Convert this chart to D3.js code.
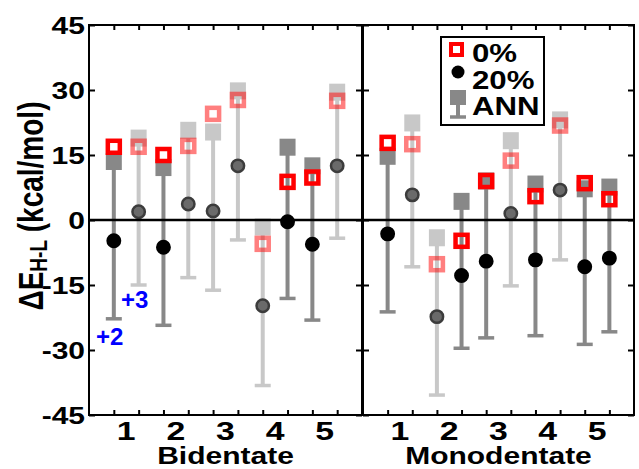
<!DOCTYPE html>
<html>
<head>
<meta charset="utf-8">
<script src="https://cdn.jsdelivr.net/npm/d3@7"></script>
<style>
body { margin: 0; background: #fff; }
text { font-family: "Liberation Sans", Arial, sans-serif; font-weight: bold; }
</style>
</head>
<body>
<svg width="639" height="469"></svg>
<script>
// categories and tick labels
var groups = ["Bidentate", "Monodentate"];
var catLabels = [1, 2, 3, 4, 5];
var yTicks = [-45, -30, -15, 0, 15, 30, 45];

// bidentate: 10 complexes, charge +2 (dark) or +3 (light)
var bidCharge = [2, 3, 2, 3, 3, 3, 3, 2, 2, 3];
var bid0 = [16.9, 16.9, 15.0, 17.1, 24.5, 27.7, -5.5, 8.8, 9.8, 27.5];
var bid20 = [-4.8, 1.9, -6.3, 3.7, 2.1, 12.5, -19.8, -0.4, -5.6, 12.5];
var bidANN = [13.5, 18.9, 12.1, 20.7, 20.3, 29.8, -1.6, 16.8, 12.5, 29.5];
var bidLow = [-22.8, -15.0, -24.3, -13.3, -16.2, -4.6, -38.2, -18.1, -23.1, -4.2];

// monodentate
var monoCharge = [2, 3, 3, 2, 2, 3, 2, 3, 2, 2];
var mono0 = [17.8, 17.5, -10.2, -4.8, 9.0, 13.7, 5.5, 21.8, 8.5, 4.8];
var mono20 = [-3.2, 5.8, -22.3, -12.8, -9.5, 1.5, -9.2, 6.9, -10.8, -8.8];
var monoANN = [14.7, 22.4, -4.1, 4.3, 9.0, 18.3, 8.3, 23.1, 7.2, 7.6];
var monoLow = [-21.2, -10.8, -40.4, -29.6, -27.2, -15.2, -26.7, -9.2, -28.7, -25.8];

var svg = d3.select("svg");
var yTop = 25, yBot = 415;
var y = d3.scaleLinear().domain([-45, 45]).range([yBot, yTop]);

var panels = [
  {name: groups[0], x0: 89, x1: 362, charge: bidCharge, v0: bid0, v20: bid20, ann: bidANN, low: bidLow},
  {name: groups[1], x0: 363, x1: 634, charge: monoCharge, v0: mono0, v20: mono20, ann: monoANN, low: monoLow}
];

var darkGrey = "#888888", lightGrey = "#c8c8c8";

// the original picture's lettering is a bit wide
function widen(sel, k) {
  sel.each(function() {
    var L = this.getComputedTextLength();
    d3.select(this).attr("textLength", L * k).attr("lengthAdjust", "spacingAndGlyphs");
  });
}

panels.forEach(function(p) {
  var x = d3.scaleLinear().domain([0, 11]).range([p.x0, p.x1]);
  var g = svg.append("g");
  var data = p.ann.map(function(v, i) {
    return {pos: i + 1, c: p.charge[i], v0: p.v0[i], v20: p.v20[i], ann: v, low: p.low[i]};
  });

  // frame ticks
  var pos = d3.range(1, 11);
  g.append("g").attr("transform", "translate(0," + yTop + ")")
    .call(d3.axisBottom(x).tickValues(pos).tickSize(5).tickFormat(""));
  g.append("g").attr("transform", "translate(0," + yBot + ")")
    .call(d3.axisTop(x).tickValues(pos).tickSize(5).tickFormat(""));
  g.append("g").attr("transform", "translate(" + p.x0 + ",0)")
    .call(d3.axisRight(y).tickValues(yTicks).tickSize(6).tickFormat(""));
  g.append("g").attr("transform", "translate(" + p.x1 + ",0)")
    .call(d3.axisLeft(y).tickValues(yTicks).tickSize(6).tickFormat(""));
  g.selectAll(".domain").remove();
  g.selectAll(".tick line").attr("stroke", "#000").attr("stroke-width", 2);

  // ANN error bars
  var marks = g.append("g");
  marks.selectAll(".bar").data(data).enter().append("line")
    .attr("x1", d => x(d.pos)).attr("x2", d => x(d.pos))
    .attr("y1", d => y(d.ann)).attr("y2", d => y(d.low))
    .attr("stroke", d => d.c == 2 ? darkGrey : lightGrey).attr("stroke-width", 4);
  marks.selectAll(".cap").data(data).enter().append("line")
    .attr("x1", d => x(d.pos) - 8).attr("x2", d => x(d.pos) + 8)
    .attr("y1", d => y(d.low)).attr("y2", d => y(d.low))
    .attr("stroke", d => d.c == 2 ? darkGrey : lightGrey).attr("stroke-width", 3.5);
  marks.selectAll(".ann").data(data).enter().append("rect")
    .attr("x", d => x(d.pos) - 8).attr("y", d => y(d.ann) - 8.5)
    .attr("width", 16).attr("height", 17)
    .attr("fill", d => d.c == 2 ? darkGrey : lightGrey);

  // 20% HF exchange
  marks.selectAll(".c20").data(data).enter().append("circle")
    .attr("cx", d => x(d.pos)).attr("cy", d => y(d.v20)).attr("r", 6.2)
    .attr("fill", d => d.c == 2 ? "#000" : "#6a6a6a")
    .attr("stroke", d => d.c == 2 ? "#000" : "#3c3c3c").attr("stroke-width", 2.5);

  // 0% HF exchange
  marks.selectAll(".s0").data(data).enter().append("rect")
    .attr("x", d => x(d.pos) - 6).attr("y", d => y(d.v0) - 6)
    .attr("width", 12).attr("height", 12)
    .attr("fill", "none")
    .attr("stroke", "#ff0000").attr("stroke-opacity", d => d.c == 2 ? 1 : 0.5)
    .attr("stroke-width", 4.5);

  // zero line and frame
  g.append("line").attr("x1", p.x0).attr("x2", p.x1)
    .attr("y1", y(0)).attr("y2", y(0)).attr("stroke", "#000").attr("stroke-width", 2.5);
  g.append("rect").attr("x", p.x0).attr("y", yTop)
    .attr("width", p.x1 - p.x0).attr("height", yBot - yTop)
    .attr("fill", "none").attr("stroke", "#000").attr("stroke-width", 2);

  // category labels
  g.selectAll(".cat").data(catLabels).enter().append("text")
    .attr("x", (d, i) => x(2 * i + 1.5)).attr("y", 440)
    .attr("text-anchor", "middle").attr("font-size", 26).text(d => d)
    .call(widen, 1.3);
  g.append("text").attr("x", (p.x0 + p.x1) / 2).attr("y", 464)
    .attr("text-anchor", "middle").attr("font-size", 24).text(p.name)
    .call(widen, 1.25);
});

// y tick labels
svg.selectAll(".ylab").data(yTicks).enter().append("text")
  .attr("x", 85).attr("y", d => y(d) + 8.5)
  .attr("text-anchor", "end").attr("font-size", 24).text(d => d)
  .call(widen, 1.25);

// y axis title
var yt = svg.append("text")
  .attr("transform", "translate(43,206) scale(1.25,1) rotate(-90)")
  .attr("text-anchor", "middle").attr("font-size", 28);
yt.append("tspan").text("\u0394E");
yt.append("tspan").attr("font-size", 19).attr("dy", 3).text("H-L");
yt.append("tspan").attr("dy", -3).text(" (kcal/mol)");

// charge annotations
svg.append("text").attr("x", 96).attr("y", 345).attr("fill", "#0000ff")
  .attr("font-size", 24).text("+2");
svg.append("text").attr("x", 121).attr("y", 308).attr("fill", "#0000ff")
  .attr("font-size", 24).text("+3");

// legend
var lg = svg.append("g");
lg.append("rect").attr("x", 441).attr("y", 37).attr("width", 103).attr("height", 88)
  .attr("fill", "#fff").attr("stroke", "#000").attr("stroke-width", 2);
lg.append("rect").attr("x", 451).attr("y", 44).attr("width", 11).attr("height", 11)
  .attr("fill", "none").attr("stroke", "#ff0000").attr("stroke-width", 4);
lg.append("circle").attr("cx", 458).attr("cy", 72).attr("r", 6.5).attr("fill", "#000");
lg.append("rect").attr("x", 450).attr("y", 90).attr("width", 16).attr("height", 15).attr("fill", darkGrey);
lg.append("line").attr("x1", 458).attr("x2", 458).attr("y1", 104).attr("y2", 117)
  .attr("stroke", darkGrey).attr("stroke-width", 4);
lg.append("line").attr("x1", 450).attr("x2", 466).attr("y1", 117).attr("y2", 117)
  .attr("stroke", darkGrey).attr("stroke-width", 3.5);
var legText = ["0%", "20%", "ANN"];
lg.selectAll(".lt").data(legText).enter().append("text")
  .attr("x", 472).attr("y", (d, i) => 62 + i * 26.5)
  .attr("font-size", 26).text(d => d)
  .call(widen, 1.2);
</script>
</body>
</html>
